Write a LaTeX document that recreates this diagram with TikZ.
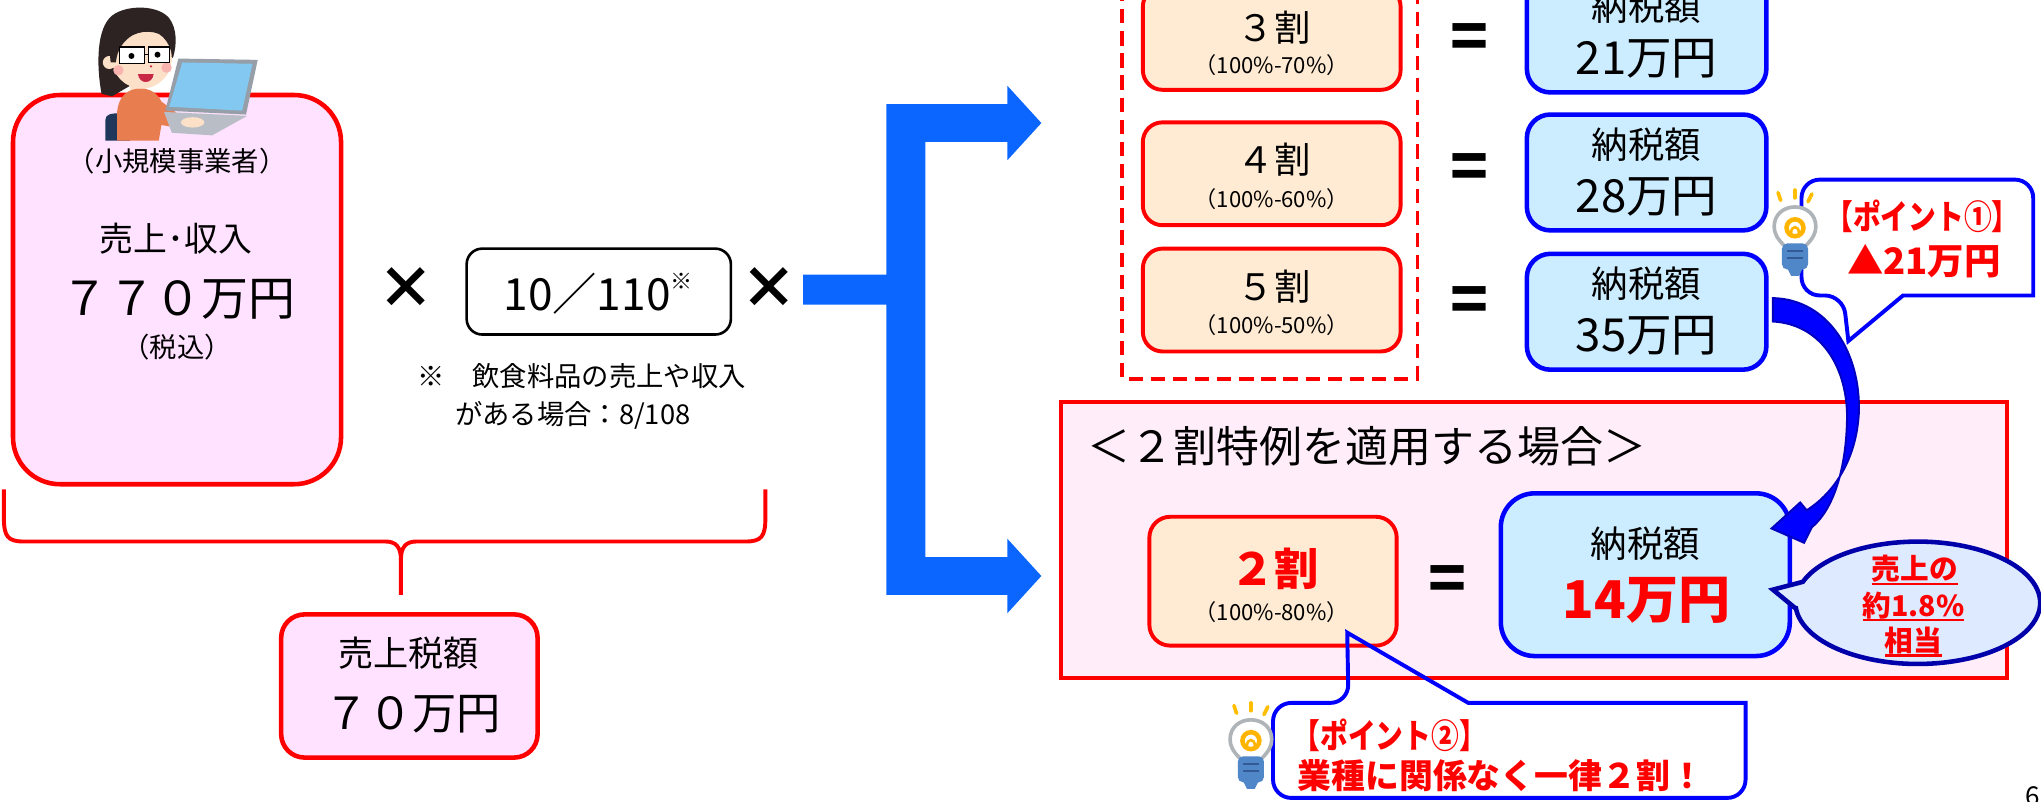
\documentclass[tikz,border=0pt]{standalone}
\usepackage{fontspec}
\usepackage{graphicx}
\setmainfont{Noto Sans CJK JP}
\newcommand{\fsz}[1]{\fontsize{#1pt}{#1pt}\selectfont}
\newcommand{\redul}[1]{\setbox0=\hbox{#1}\rlap{\rule[-4pt]{\wd0}{1.6pt}}\box0}

\definecolor{pinkfill}{RGB}{255,226,255}
\definecolor{redline}{RGB}{255,0,0}
\definecolor{orangefill}{RGB}{255,235,211}
\definecolor{bluefill}{RGB}{204,236,255}
\definecolor{blueline}{RGB}{0,0,255}
\definecolor{arrowdark}{RGB}{0,0,190}
\definecolor{brkblue}{RGB}{10,102,255}
\definecolor{specialfill}{RGB}{255,237,249}
\definecolor{ellfill}{RGB}{221,234,255}
\definecolor{elline}{RGB}{0,0,170}
\definecolor{hairc}{RGB}{45,35,35}
\definecolor{skin}{RGB}{252,224,200}
\definecolor{sweater}{RGB}{232,125,80}
\definecolor{chairnavy}{RGB}{30,55,90}
\definecolor{cheek}{RGB}{250,180,175}
\definecolor{mouthred}{RGB}{200,40,70}
\definecolor{lapgray}{RGB}{150,158,168}
\definecolor{lapgraylight}{RGB}{185,190,198}
\definecolor{lapscreen}{RGB}{130,200,240}
\definecolor{bulbray}{RGB}{255,190,0}
\definecolor{bulbglass}{RGB}{175,180,185}
\definecolor{bulbfil}{RGB}{255,180,0}
\definecolor{bulbbase}{RGB}{80,135,200}
\definecolor{bulbbasedark}{RGB}{50,90,150}

\tikzset{
  txt/.style={inner sep=0pt, outer sep=0pt, anchor=center, text=black},
  redtxt/.style={inner sep=0pt, outer sep=0pt, anchor=center, text=redline},
  opsign/.style={txt, font=\bfseries\fsz{44}},
  eqsign/.style={txt, font=\bfseries\fsz{48}},
  pinkbox/.style={draw=redline, line width=3.5pt, fill=pinkfill, inner sep=0pt},
  calcbox/.style={draw=black, line width=2pt, rounded corners=12pt, fill=white, inner sep=0pt},
  ratebox/.style={draw=redline, line width=3pt, fill=orangefill, rounded corners=15pt,
    inner sep=0pt, minimum width=198pt, minimum height=79pt},
  taxbox/.style={draw=blueline, line width=3.5pt, fill=bluefill, rounded corners=18pt,
    inner sep=0pt, minimum width=184pt, minimum height=89pt},
  callout/.style={draw=blueline, line width=3pt, line join=miter},
  bulbicon/.pic={
    \draw[bulbray, line width=2.8pt, line cap=round] (-13,-29) -- (-11,-23);
    \draw[bulbray, line width=2.8pt, line cap=round] (0,-31) -- (0,-25);
    \draw[bulbray, line width=2.8pt, line cap=round] (13,-28) -- (10,-22);
    \draw[bulbglass, line width=2.8pt, fill=white] (-8,12) .. controls (-14,6) and (-16,2) .. (-16,-3) .. controls (-16,-12) and (-9,-18) .. (0,-18) .. controls (9,-18) and (16,-12) .. (16,-3) .. controls (16,2) and (14,6) .. (8,12) -- cycle;
    \draw[bulbfil, line width=3.5pt] (0,-2) circle (6.5pt);
    \draw[bulbfil, line width=2pt] (-3,2) .. controls (-3,-4) and (3,-4) .. (3,2);
    \fill[bulbbase, rounded corners=4pt] (-10,10) rectangle (10,30);
    \fill[bulbbase] (-6,29) -- (6,29) -- (3,35) -- (-3,35) -- cycle;
    \draw[bulbbasedark, line width=1.6pt] (-6,16) -- (6,16) (-6,21) -- (6,21);
  }
}

\begin{document}
\begin{tikzpicture}[x=1pt,y=-1pt]
\useasboundingbox (0,0) rectangle (1568,616);
\fill[white] (0,0) rectangle (1568,616);

% ---------- sales of the small business ----------
\node[pinkbox, rounded corners=36pt, minimum width=252pt, minimum height=299pt] (income) at (136,222.5) {};

% person working at a laptop
\begin{scope}
  \fill[chairnavy] (81,108) -- (81,92) .. controls (81,88) and (85,87) .. (92,87) -- (100,87) -- (100,108) -- cycle;
  \fill[hairc] (78,72) .. controls (74,50) and (74,22) .. (86,12) .. controls (98,3) and (122,4) .. (130,14) .. controls (136,22) and (136,34) .. (133,44) -- (110,60) -- (86,74) -- cycle;
  \fill[skin] (100,60) rectangle (112,72);
  \fill[sweater] (90,108) -- (90,86) .. controls (91,74) and (98,68) .. (108,68) .. controls (116,68) and (121,72) .. (124,78) -- (140,90) -- (141,99) -- (124,96) -- (122,108) -- cycle;
  \fill[skin] (109,45) ellipse [x radius=23, y radius=23];
  \fill[skin] (84,48) circle (5pt);
  \fill[hairc] (85,48) .. controls (82,25) and (95,10) .. (112,10) .. controls (126,10) and (135,20) .. (133,34) .. controls (125,24) and (112,22) .. (102,27) .. controls (95,31) and (90,38) .. (89,48) -- cycle;
  \fill[cheek] (91,54) circle (4pt);
  \fill[cheek] (128,52) circle (4pt);
  \draw[black, line width=1pt, fill=white] (92,36) rectangle (111,49);
  \draw[black, line width=1pt, fill=white] (114,36) rectangle (130,48);
  \draw[black, line width=1pt] (111,42) -- (114,42);
  \fill[black] (101,43) circle (2.3pt);
  \fill[black] (121,42) circle (2.3pt);
  \fill[mouthred] (116,51) circle (1pt);
  \fill[mouthred] (106,57) .. controls (107,65) and (117,65) .. (118,57) -- cycle;
  \fill[lapgray] (137,45) -- (198,46) -- (189,88) -- (127,85) -- cycle;
  \fill[lapscreen] (140,48) -- (194,49) -- (186,85) -- (130,82) -- cycle;
  \fill[lapgraylight] (126,86) -- (190,89) -- (163,104) -- (132,102) -- cycle;
  \fill[skin] (148,94) ellipse [x radius=9, y radius=4];
\end{scope}

\node[txt, font=\fsz{21}] (bizlbl) at (136,124) {（小規模事業者）};
\node[txt, font=\fsz{26}] (salelbl) at (135,183) {売上･収入};
\node[txt, font=\fsz{36}] (saleamt) at (137,230) {７７０万円};
\node[txt, font=\fsz{21}] (taxincl) at (136,267) {（税込）};

% ---------- tax rate ----------
\node[opsign] (times1) at (312,221) {×};
\node[calcbox, minimum width=203pt, minimum height=66pt] (ratio) at (460,224) {};
\node[txt, font=\fsz{34}] (ratiotxt) at (451,226) {10／110};
\node[txt, font=\fsz{17}, anchor=west] (ratiostar) at (ratiotxt.east) [yshift=10pt] {※};
\node[opsign] (times2) at (591,221) {×};
\node[txt, font=\fsz{21}] (note1) at (447,289) {※　飲食料品の売上や収入};
\node[txt, font=\fsz{21}] (note2) at (440,319) {がある場合：8/108};

% brace under the product
\coordinate (brL) at (3,376);
\coordinate (brR) at (588,376);
\coordinate (brTip) at (308,457);
\draw[redline, line width=3pt] (brL) -- (3,398) .. controls (3,412) and (6,416) .. (18,416) -- (296,416) .. controls (304,416) and (308,420) .. (308,430) -- (brTip);
\draw[redline, line width=3pt] (308,430) .. controls (308,420) and (312,416) .. (320,416) -- (573,416) .. controls (585,416) and (588,412) .. (588,398) -- (brR);

\node[pinkbox, rounded corners=18pt, minimum width=197pt, minimum height=110pt] (salestax) at (314.5,527) {};
\node[txt, font=\fsz{27}] (salestaxlbl) at (314,502) {売上税額};
\node[txt, font=\fsz{34}] (salestaxamt) at (317,549) {７０万円};

% ---------- branching arrow ----------
\fill[brkblue] (617,211) -- (681,211) -- (681,80) -- (774,80) -- (774,66) -- (800,94.5) -- (774,123) -- (774,109) -- (711,109) -- (711,428) -- (774,428) -- (774,414) -- (800,442.5) -- (774,471) -- (774,457) -- (681,457) -- (681,234) -- (617,234) -- cycle;

% ---------- simplified taxation: deemed purchase rates ----------
\draw[redline, line width=3pt, dash pattern=on 11pt off 6pt] (862,-10) rectangle (1089,291);

\node[ratebox] (rate3) at (977,29.5) {};
\node[txt, font=\fsz{28}] (rate3a) at (979,21) {３割};
\node[txt, font=\fsz{17}] (rate3b) at (977,50) {（100\%-70\%）};
\node[ratebox] (rate4) at (977,133.5) {};
\node[txt, font=\fsz{28}] (rate4a) at (979,123) {４割};
\node[txt, font=\fsz{17}] (rate4b) at (977,153) {（100\%-60\%）};
\node[ratebox] (rate5) at (977,230.5) {};
\node[txt, font=\fsz{28}] (rate5a) at (979,220) {５割};
\node[txt, font=\fsz{17}] (rate5b) at (977,250) {（100\%-50\%）};

\node[eqsign] (eq3) at (1129,32) {=};
\node[eqsign] (eq4) at (1129,132) {=};
\node[eqsign] (eq5) at (1129,234) {=};

\node[taxbox] (tax3) at (1265,26.5) {};
\node[txt, font=\fsz{28}] (tax3a) at (1265,5) {納税額};
\node[txt, font=\fsz{35}] (tax3b) at (1265,45) {21万円};
\node[taxbox] (tax4) at (1265,132.5) {};
\node[txt, font=\fsz{28}] (tax4a) at (1265,111) {納税額};
\node[txt, font=\fsz{35}] (tax4b) at (1265,151) {28万円};
\node[taxbox] (tax5) at (1265,239.5) {};
\node[txt, font=\fsz{28}] (tax5a) at (1265,218) {納税額};
\node[txt, font=\fsz{35}] (tax5b) at (1265,258) {35万円};

% ---------- 2-wari special rule ----------
\node[draw=redline, line width=3.5pt, fill=specialfill, inner sep=0pt, minimum width=727pt, minimum height=212pt] (special) at (1178.5,415) {};
\node[txt, font=\fsz{33}] (specialttl) at (1050,343) {＜２割特例を適用する場合＞};

\node[ratebox, rounded corners=16pt, minimum width=190pt, minimum height=99pt] (rate2) at (978,446.5) {};
\node[redtxt, font=\bfseries\fsz{34}] (rate2a) at (979,437) {２割};
\node[txt, font=\fsz{17}] (rate2b) at (977,470) {（100\%-80\%）};
\node[eqsign] (eq2) at (1112,448) {=};
\node[taxbox, rounded corners=26pt, minimum width=222pt, minimum height=125pt] (tax2) at (1264,441.5) {};
\node[txt, font=\fsz{28}] (tax2a) at (1264,418) {納税額};
\node[redtxt, font=\bfseries\fsz{40}] (tax2b) at (1265,461) {14万円};

% ratio-to-sales balloon
\coordinate (ellTip) at (1362,453);
\draw[fill=ellfill, draw=elline, line width=3.5pt] (1379,467) -- (ellTip) -- (1385,447) arc[start angle=200, end angle=535, x radius=94, y radius=47] -- cycle;
\node[redtxt, font=\bfseries\fsz{22}] (ell1) at (1471,438) {\redul{売上の}};
\node[redtxt, font=\bfseries\fsz{22}] (ell2) at (1470,466) {\redul{約1.8\%}};
\node[redtxt, font=\bfseries\fsz{22}] (ell3) at (1470,493) {\redul{相当}};

% ---------- point 1 ----------
\coordinate (pt1Tip) at (1420,262);
\draw[callout, fill=white] (pt1Tip) -- (1462,227) -- (1562,227) [rounded corners=14pt] -- (1562,138) -- (1384,138) -- (1384,227) -- (1416,227) [sharp corners] -- cycle;
\node[redtxt, font=\bfseries\fsz{26}] (pt1a) at (1477,166) {\scalebox{0.82}[1]{【ポイント①】}};
\node[redtxt, font=\bfseries\fsz{28}] (pt1b) at (1478,201) {▲21万円};
\pic at (1379,177) {bulbicon};

% curved arrow from 35万円 down to 14万円
\coordinate (curveStart) at (1362,238);
\coordinate (curveTip) at (1361,406);
\fill[blueline, draw=arrowdark, line width=1.5pt, line join=miter] (1362,229) .. controls (1405,230) and (1430,272) .. (1428,318) .. controls (1426,352) and (1410,378) .. (1388,392) -- (1383,386) -- (curveTip) -- (1386,417) -- (1392,405) .. controls (1410,390) and (1419,356) .. (1419,318) .. controls (1418,280) and (1398,249) .. (1362,247) -- cycle;

% ---------- point 2 ----------
\coordinate (pt2Tip) at (1035,486);
\draw[callout] (pt2Tip) -- (1128,540) -- (1341,540) [rounded corners=14pt] -- (1341,613) -- (978,613) -- (978,540) -- (1036,540) [sharp corners] -- cycle;
\node[redtxt, font=\bfseries\fsz{26}, anchor=west] (pt2a) at (993,565) {\scalebox{0.82}[1]{【ポイント②】}};
\node[redtxt, font=\bfseries\fsz{26}, anchor=west] (pt2b) at (997,596) {業種に関係なく一律２割！};
\pic at (961,571) {bulbicon};

% page number
\node[txt, font=\fsz{20}, anchor=north west] (pageno) at (1556,604) {6};
\end{tikzpicture}
\end{document}
